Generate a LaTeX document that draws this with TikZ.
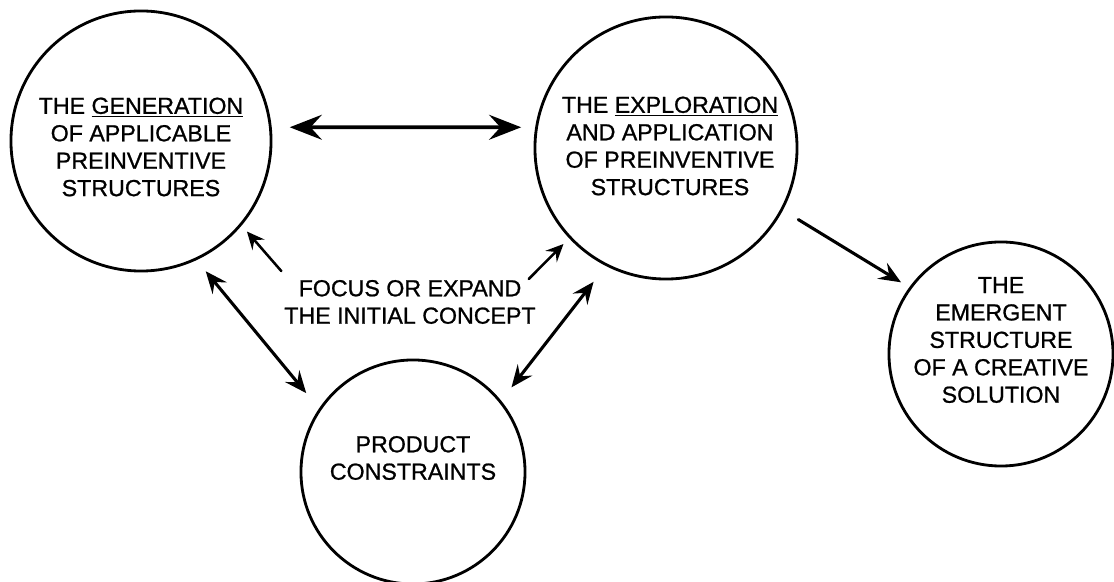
\documentclass[tikz,border=0pt]{standalone}
\usepackage{fontspec}
\setmainfont{Liberation Sans}[FakeBold=0.9]
\usetikzlibrary{arrows.meta, positioning}

\tikzset{
  stage/.style={draw, circle, line width=2pt, inner sep=0pt},
  caption/.style={align=center, font=\fontsize{16.5}{19.5}\selectfont},
  bigtip/.tip={Stealth[length=8mm, width=6.2mm, inset=2.8mm]},
  midtip/.tip={Stealth[length=5.5mm, width=4.6mm, inset=2mm]},
  smalltip/.tip={Stealth[length=4.4mm, width=4mm, inset=1.6mm]},
}

\begin{document}
\begin{tikzpicture}
	[x=0.025cm, y=-0.025cm, line cap=round]
   \useasboundingbox (0,0) rectangle (1114,582);

   % the four stages
   \node[stage, minimum size=6.5cm]  (gen)   at (141,141)  {};
   \node[stage, minimum size=6.55cm] (expl)  at (666,148)  {};
   \node[stage, minimum size=5.6cm]  (prod)  at (413,472)  {};
   \node[stage, minimum size=5.6cm]  (emerg) at (1001,354) {};

   \node[caption] (gen_t)   at (141,147)  {THE \underline{GENERATION}\\OF APPLICABLE\\PREINVENTIVE\\STRUCTURES};
   \node[caption] (expl_t)  at (670,146)  {THE \underline{EXPLORATION}\\AND APPLICATION\\OF PREINVENTIVE\\STRUCTURES};
   \node[caption] (prod_t)  at (413,458)  {PRODUCT\\CONSTRAINTS};
   \node[caption] (emerg_t) at (1001,340) {THE\\EMERGENT\\STRUCTURE\\OF A CREATIVE\\SOLUTION};
   \node[caption] (focus)   at (410,302)  {FOCUS OR EXPAND\\THE INITIAL CONCEPT};

   \path[line width=2.8pt, bigtip-bigtip]
    (gen.6) edge [shorten <=4.5mm, shorten >=3.5mm] (expl.171);
   \path[line width=2.2pt, midtip-midtip]
    (gen.-65) edge [shorten <=3.6mm, shorten >=5mm] (prod.146)
    (expl.243) edge [shorten <=5mm, shorten >=4.2mm] (prod.39);
   \path[line width=1.8pt, -smalltip]
    ([shift={(2,-4)}]focus.north west) edge [shorten >=2mm] (gen.-40)
    ([shift={(-12,4)}]focus.north east) edge [shorten >=2mm] (expl.223);
   \path[line width=2.2pt, -midtip]
    (expl.-28) edge [shorten <=4.5mm, shorten >=2.4mm] (emerg.144);

\end{tikzpicture}
\end{document}
